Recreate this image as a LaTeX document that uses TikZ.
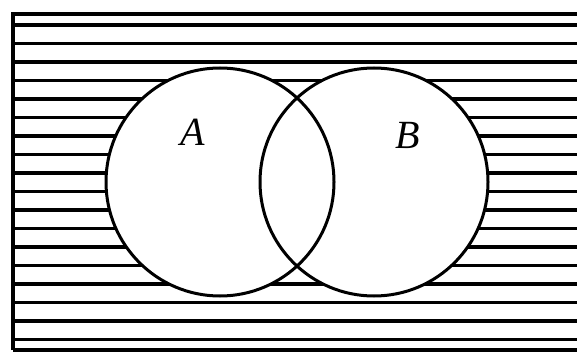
\documentclass[tikz,border=0pt]{standalone}
\usepackage{fontspec}
\setmainfont{Liberation Serif}
\begin{document}
\begin{tikzpicture}[x=1pt,y=-1pt,
  hatch/.style={line width=3.2pt,black},
  setcircle/.style={line width=3pt,black},
  setlabel/.style={font=\fontsize{40}{40}\selectfont\itshape,inner sep=0pt}]
\useasboundingbox (0,0) rectangle (577,355);
% frame
\draw[hatch] (13,350) -- (13,14) -- (577,14);
\draw[hatch] (13,350) -- (577,350);
% hatching
\foreach \i in {0,...,17}{
  \draw[hatch] (13,{25+18.5*\i}) -- (577,{25+18.5*\i});
}
% circles
\fill[white] (220,182) circle (114);
\fill[white] (374,182) circle (114);
\draw[setcircle] (220,182) circle (114);
\draw[setcircle] (374,182) circle (114);
% labels
\node[setlabel] (labA) at (193,132) {A};
\node[setlabel] (labB) at (408,135) {B};
\end{tikzpicture}
\end{document}
